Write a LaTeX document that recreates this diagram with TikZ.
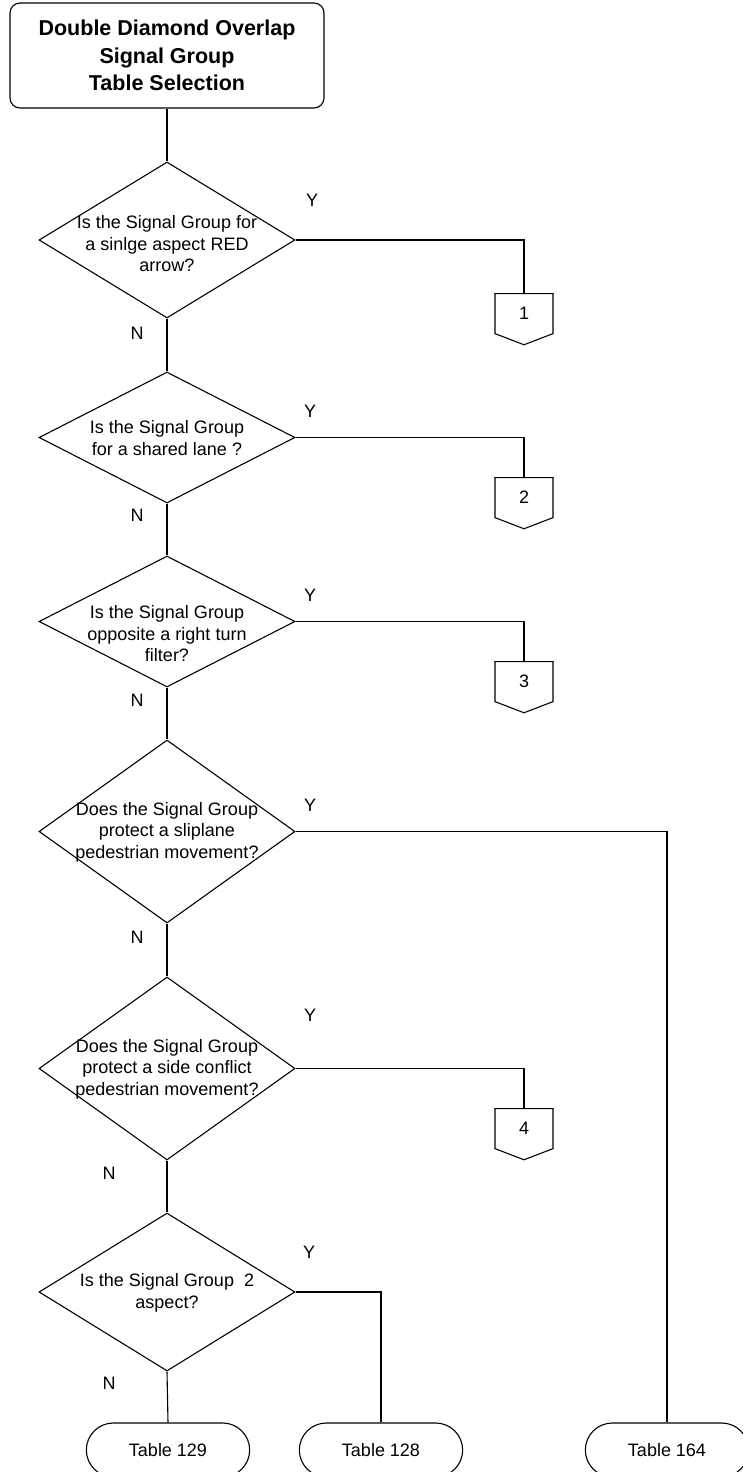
\documentclass[tikz,border=0pt]{standalone}
\usepackage{fontspec}
\setmainfont{Liberation Sans}
\usetikzlibrary{shapes.geometric, shapes.symbols, shapes.misc}
\begin{document}
\begin{tikzpicture}[x=1pt, y=-1pt, line width=1.1pt,
  font=\fontsize{18}{21.5}\selectfont,
  startbox/.style={draw, rounded corners=10, minimum width=314, minimum height=105,
    align=center, font=\bfseries\fontsize{21.5}{27.5}\selectfont},
  decision/.style={draw, diamond, inner sep=0, minimum width=256},
  qtext/.style={align=center, inner sep=0},
  offpage/.style={draw, signal, signal to=south, signal from=nowhere,
    signal pointer angle=138, minimum width=58, minimum height=42, inner sep=0, anchor=north},
  terminal/.style={draw, rounded rectangle, minimum width=170, minimum height=54}]
  \path[use as bounding box, fill=white] (0,0) rectangle (742,1472);
  % start
  \node[startbox] (start) at (167,55.5) {Double Diamond Overlap\\Signal Group\\Table Selection};
  % questions
  \node[decision, minimum height=156] (q1) at (167,240) {};
  \node[qtext] (q1t) at (167,244) {Is the Signal Group for\\a sinlge aspect RED\\arrow?};
  \node[decision, minimum height=131] (q2) at (167,437.5) {};
  \node[qtext] (q2t) at (167,438) {Is the Signal Group\\for a shared lane ?};
  \node[decision, minimum height=131] (q3) at (167,621.5) {};
  \node[qtext] (q3t) at (167,634) {Is the Signal Group\\opposite a right turn\\filter?};
  \node[decision, minimum height=183] (q4) at (167,831.5) {};
  \node[qtext] (q4t) at (167,832) {Does the Signal Group\\protect a sliplane\\pedestrian movement?};
  \node[decision, minimum height=183] (q5) at (167,1068.5) {};
  \node[qtext] (q5t) at (167,1069) {Does the Signal Group\\protect a side conflict\\pedestrian movement?};
  \node[decision, minimum height=158] (q6) at (167,1292) {};
  \node[qtext] (q6t) at (167,1293) {Is the Signal Group\ \ 2\\aspect?};
  % off page connectors
  \node[offpage] (c1) at (524,293) {1};
  \node[offpage] (c2) at (524,477) {2};
  \node[offpage] (c3) at (524,661) {3};
  \node[offpage] (c4) at (524,1108) {4};
  % tables
  \node[terminal] (t129) at (168,1450) {Table 129};
  \node[terminal] (t128) at (381,1450) {Table 128};
  \node[terminal] (t164) at (667,1450) {Table 164};
  % Y / N
  \node (y1) at (312,200) {Y};
  \node (y2) at (310,411) {Y};
  \node (y3) at (310,595) {Y};
  \node (y4) at (310,805) {Y};
  \node (y5) at (310,1015) {Y};
  \node (y6) at (309,1252) {Y};
  \node (n1) at (137,333) {N};
  \node (n2) at (137,515) {N};
  \node (n3) at (137,700) {N};
  \node (n4) at (137,937) {N};
  \node (n5) at (109,1173) {N};
  \node (n6) at (109,1383) {N};
  % lines
  \draw (start) -- (q1);
  \draw (q1) -- (q2);
  \draw (q2) -- (q3);
  \draw (q3) -- (q4);
  \draw (q4) -- (q5);
  \draw (q5) -- (q6);
  \draw (q6.south) -- (t129.north);
  \draw (q1.east) -| (c1.north);
  \draw (q2.east) -| (c2.north);
  \draw (q3.east) -| (c3.north);
  \draw (q4.east) -| (t164.north);
  \draw (q5.east) -| (c4.north);
  \draw (q6.east) -| (t128.north);
\end{tikzpicture}
\end{document}
